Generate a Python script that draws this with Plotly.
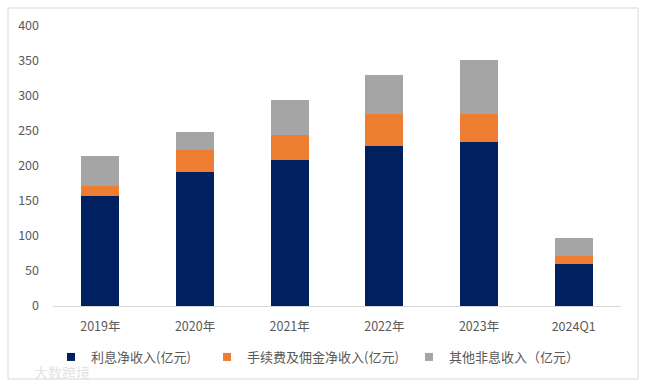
import plotly.graph_objects as go

categories = ["2019年", "2020年", "2021年", "2022年", "2023年", "2024Q1"]
net_interest = [157, 192, 209, 229, 234, 60]
fee_commission = [15, 31, 36, 46, 41, 12]
other_non_interest = [42, 25, 49, 55, 76, 25]
series_names = ["利息净收入(亿元)", "手续费及佣金净收入(亿元)", "其他非息收入（亿元）"]
colors = ["#002060", "#ED7D31", "#A5A5A5"]

W, H = 647, 386
L, R, T, B = 53, 26, 26, 80
pw, ph = W - L - R, H - T - B

def px(x):
    return (x - L) / pw

def py(y):
    return (H - B - y) / ph

font_family = "Noto Sans CJK SC, Noto Sans, sans-serif"
txt_color = "#595959"

fig = go.Figure()
series = [net_interest, fee_commission, other_non_interest]
legend_ids = ["legend", "legend2", "legend3"]
for vals, name, col, lg in zip(series, series_names, colors, legend_ids):
    fig.add_trace(go.Bar(x=categories, y=vals, name=name, marker_color=col,
                         marker_line_width=0, showlegend=False))
    fig.add_trace(go.Scatter(x=[None], y=[None], mode="markers", name=name,
                             marker=dict(symbol="square", size=8, color=col),
                             showlegend=True, legend=lg))

leg_common = dict(orientation="h", yanchor="middle", xanchor="left",
                  font=dict(family=font_family, size=13, color=txt_color),
                  bgcolor="rgba(0,0,0,0)", itemwidth=30)
swatch_px = [51, 207, 409]
layout_leg = {}
for lg, sx in zip(legend_ids, swatch_px):
    layout_leg[lg] = dict(leg_common, x=px(sx), y=py(357))

fig.update_layout(
    width=W, height=H,
    margin=dict(l=L, r=R, t=T, b=B),
    paper_bgcolor="white", plot_bgcolor="white",
    barmode="stack", bargap=0.6,
    font=dict(family=font_family, size=12, color=txt_color),
    xaxis=dict(showgrid=False, showline=True, linecolor="#D9D9D9", linewidth=1,
               ticks="", tickfont=dict(size=12.5, color=txt_color),
               ticklabelstandoff=9),
    yaxis=dict(range=[0, 400], dtick=50, showgrid=False, zeroline=False,
               showline=False, ticks="", tickfont=dict(size=12.5, color=txt_color),
               ticklabelstandoff=13),
    shapes=[dict(type="rect", xref="paper", yref="paper",
                 x0=px(8), x1=px(638), y0=py(379), y1=py(8),
                 line=dict(color="#D9D9D9", width=1), fillcolor="rgba(0,0,0,0)",
                 layer="below")],
    annotations=[dict(text="大数跨境", xref="paper", yref="paper",
                      x=px(32), y=py(372), xanchor="left", yanchor="middle",
                      showarrow=False,
                      font=dict(family=font_family, size=14, color="#E3E3E3"))],
    **layout_leg,
)

fig.write_html("out.html", config={"displayModeBar": False},
               post_script="document.body.style.margin='0';document.body.style.padding='0';")
